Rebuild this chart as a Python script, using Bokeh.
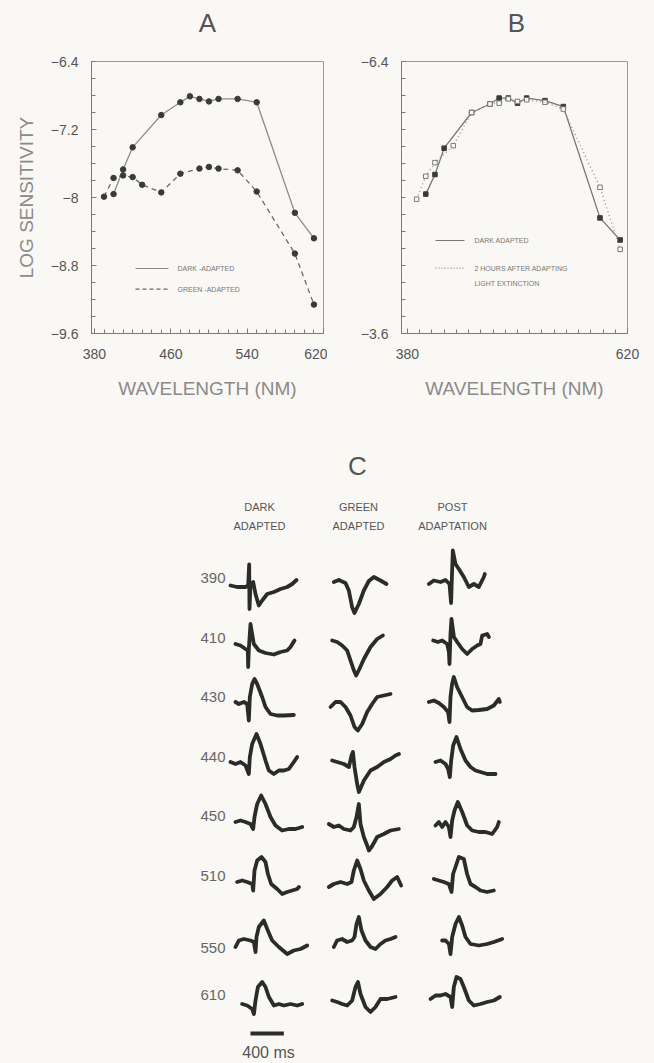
from bokeh.plotting import figure
from bokeh.models import Range1d, FixedTicker
from bokeh.layouts import column, row
from bokeh.core.properties import value
from bokeh.embed import file_html
from bokeh.resources import INLINE

# ---------------- data ----------------
# Panel A: spectral sensitivity, dark- vs green-adapted
A_wl_dark = [400, 410, 420, 450, 470, 480, 490, 500, 510, 530, 550, 590, 610]
A_dark = [-7.96, -7.67, -7.41, -7.03, -6.88, -6.81, -6.84, -6.87, -6.84, -6.84, -6.88, -8.18, -8.48]
A_wl_green = [390, 400, 410, 420, 430, 450, 470, 490, 500, 510, 530, 550, 590, 610]
A_green = [-7.99, -7.77, -7.74, -7.76, -7.85, -7.94, -7.72, -7.66, -7.64, -7.66, -7.68, -7.93, -8.66, -9.26]

# Panel B: dark adapted vs 2 h after adapting light extinction
B_wl_dark = [400, 410, 420, 450, 470, 480, 490, 500, 510, 530, 550, 590, 612]
B_dark = [-7.96, -7.73, -7.42, -7.00, -6.90, -6.83, -6.83, -6.89, -6.83, -6.86, -6.93, -8.24, -8.50]
B_wl_post = [390, 400, 410, 430, 450, 470, 480, 490, 500, 510, 530, 550, 590, 612]
B_post = [-8.02, -7.75, -7.59, -7.39, -7.00, -6.90, -6.89, -6.84, -6.87, -6.85, -6.88, -6.96, -7.88, -8.61]

A_xticks = [380, 460, 540, 620]
A_yticks = [-9.6, -8.8, -8.0, -7.2, -6.4]
A_ylabels = ["\u22129.6", "\u22128.8", "\u22128", "\u22127.2", "\u22126.4"]
B_xticks = [380, 620]
B_yticks = [-9.6, -6.4]
B_ylabels = ["\u22123.6", "\u22126.4"]

# Panel C: ERG traces (time in ms from trace origin, amplitude in arbitrary units)
C_wavelengths = ["390", "410", "430", "440", "450", "510", "550", "610"]
C_columns = [["DARK", "ADAPTED"], ["GREEN", "ADAPTED"], ["POST", "ADAPTATION"]]

dark_t = [
    [0, 80, 180, 212, 224, 228, 240, 272, 300, 340, 380, 440, 520, 600, 680, 740, 792],
    [60, 120, 180, 208, 212, 220, 240, 280, 340, 420, 520, 600, 680, 720, 768],
    [60, 100, 160, 200, 220, 232, 260, 288, 320, 380, 420, 480, 560, 640, 760],
    [0, 60, 120, 180, 220, 232, 260, 312, 360, 420, 460, 520, 580, 640, 700, 760, 800],
    [60, 120, 180, 240, 272, 288, 320, 368, 420, 480, 540, 620, 700, 780, 860],
    [80, 140, 200, 260, 272, 288, 320, 372, 420, 449, 488, 560, 620, 680, 740, 800, 821],
    [60, 100, 160, 240, 280, 300, 312, 340, 400, 448, 500, 580, 680, 760, 840, 920],
    [140, 200, 260, 281, 300, 329, 380, 420, 461, 521, 581, 641, 720, 800, 860],
]
dark_v = [
    [-1, -2.5, -2.5, -1, 20, -24.5, 0.5, 2.5, -9.5, -21, -16, -9.5, -7.5, -4.5, -2.5, 0.5, 4.5],
    [0, -1.5, -5, -6.5, -23, -5, 20, 0, -6.5, -9, -10.5, -8, -6.5, -3, 3.5],
    [1.5, -0.5, 1.5, -0.5, -17, 6.5, 19.5, 24.5, 19.5, 6.5, -3.5, -10.5, -12, -12, -11.5],
    [1, -1, 1, -2.5, -11, 6, 19, 29, 19, 2.5, -7.5, -11, -7.5, -7.5, -6, 1, 6],
    [0.5, 2, 0.5, -1.5, -6.5, 5.5, 18.5, 27, 18.5, 5.5, -3, -8, -6.5, -6.5, -4.5],
    [0, 1.5, 0, -2, -8.5, 11.5, 21.5, 25, 20, 8, -2, -7, -12, -10, -8.5, -7, -5],
    [-5.5, 1, 2.5, 1, -0.5, -10.5, 4.5, 14.5, 21, 11, 1, -5.5, -12.5, -9, -7.5, -4],
    [-3, -4.5, -8, -13, 0.5, 14, 19, 14, 4, -4.5, -3, -4.5, -3, -4.5, -3],
]
green_t = [
    [64, 124, 204, 244, 283, 312, 364, 424, 484, 544, 624, 696],
    [44, 104, 164, 224, 264, 305, 332, 365, 425, 504, 584, 653],
    [24, 84, 144, 204, 264, 312, 352, 404, 464, 524, 584, 664, 744],
    [44, 104, 185, 245, 276, 293, 312, 344, 365, 425, 504, 584, 665, 744, 804, 845],
    [4, 64, 124, 184, 264, 304, 336, 364, 384, 424, 464, 484, 524, 584, 664, 744, 844],
    [4, 64, 144, 224, 276, 304, 344, 384, 424, 484, 544, 624, 704, 764, 824, 872],
    [64, 103, 163, 223, 283, 312, 336, 364, 396, 444, 504, 564, 624, 684, 744, 804],
    [44, 104, 164, 224, 284, 324, 353, 384, 444, 504, 564, 624, 704, 804],
]
green_v = [
    [2.5, 4.5, 1.5, -6, -22.5, -28.5, -19.5, -6, 3.5, 7.5, 4, 0.5],
    [3.5, 2, -1.5, -6.5, -16.5, -26.5, -31.5, -26, -15, -3, 5, 8.5],
    [-3.5, 1.5, 1.5, -3.5, -12, -23.5, -27, -20.5, -8.5, -0.5, 6.5, 8, 9.5],
    [2.5, 1, -1, -4, 7.5, 11, -4, -21, -29, -17.5, -7.5, -4, 1, 4, 7.5, 9],
    [-1.5, -4.5, -3, -6.5, -8, -4.5, 5.5, 18.5, -1.5, -14.5, -23, -28, -23.5, -14.5, -11.5, -8, -6.5],
    [-5, -2, 0, -2, 0, 11.5, 21.5, 13, 1.5, -8.5, -17, -12, -5, 1.5, 5, -3.5],
    [-5.5, 1, 2.5, -0.5, 1, 4.5, 17.5, 24.5, 11, 1, -5.5, -7.5, -2.5, 1, 2.5, 4.5],
    [0.5, -1, -3, -4.5, 0.5, 14, 19, 7, -6, -11, -6, 2, 2, 4],
]
post_t = [
    [4, 64, 144, 204, 252, 271, 280, 292, 324, 364, 424, 484, 544, 604, 664, 676],
    [56, 113, 164, 224, 245, 252, 264, 276, 305, 344, 404, 464, 524, 584, 624, 644, 704, 725],
    [4, 64, 124, 184, 235, 252, 264, 283, 304, 343, 403, 463, 523, 604, 703, 784, 844, 856],
    [84, 144, 204, 236, 256, 272, 296, 336, 384, 444, 504, 564, 624, 704, 764, 804],
    [84, 124, 164, 204, 244, 264, 284, 312, 352, 404, 464, 524, 604, 684, 764, 824, 844],
    [64, 124, 184, 244, 276, 295, 324, 364, 424, 463, 504, 564, 624, 703, 784],
    [164, 204, 245, 264, 284, 324, 365, 404, 444, 504, 605, 704, 785, 884],
    [24, 84, 144, 204, 264, 284, 304, 336, 384, 424, 484, 544, 624, 704, 784, 856],
]
post_v = [
    [0.5, 4, 2.5, 4.5, 0.5, -18.5, 5.5, 34, 20.5, 15.5, 7.5, -2.5, 0.5, -2.5, 7.5, 10.5],
    [3.5, 2, 3.5, 0, -8, -20, 10, 25, 7, 2, -5, -10, -5, -1.5, 0, 8.5, 10, 7],
    [1.5, 3, 0.5, -3.5, -8.5, -18.5, 6.5, 19.5, 26.5, 16.5, 6.5, -3.5, -7, -6.5, -5.5, -2, 4.5, 1.5],
    [1, 2.5, -1, -6, -14, 2.5, 17.5, 26, 14, 2.5, -4, -7.5, -9, -11, -11, -11],
    [-3, 0.5, -4.5, 0.5, -4.5, -14.5, 2, 12, 20.5, 10.5, -3, -8, -9.5, -9.5, -11.5, -4.5, 0.5],
    [3, 1.5, 0, -2, -10, 8, 15, 25, 23, 8, -2, -5, -8.5, -10, -8.5],
    [1, 1, -2.5, -12.5, 4.5, 17.5, 24.5, 16, 4.5, -2.5, -4, -2.5, -0.5, 2.5],
    [2, 5.5, 5.5, 7, 4, -6, 14, 24, 22, 14, 0.5, -4.5, -3, -1, 0.5, 4],
]
scale_bar_ms = 400

# ---------------- styling ----------------
BG = "#faf8f5"
INK = "#2b2b2b"
AXIS = "#7a7a7a"
TICKTXT = "#555555"
TITLETXT = "#8a8a8a"
FONT = "Liberation Sans"
STRIP_H = 44  # height of the strip holding the panel letters A and B


def bare_figure(width, height, x_range, y_range):
    p = figure(width=width, height=height, x_range=x_range, y_range=y_range,
               output_backend="svg", toolbar_location=None,
               x_axis_location=None, y_axis_location=None,
               min_border=0, min_border_left=0, min_border_right=0,
               min_border_top=0, min_border_bottom=0)
    p.grid.visible = False
    p.outline_line_color = None
    p.background_fill_color = BG
    p.border_fill_color = BG
    return p


def style_sensitivity_axes(p, xticks, xminor, yticks, ylabels, yminor):
    p.grid.visible = False
    p.background_fill_color = BG
    p.border_fill_color = BG
    p.outline_line_color = "#9a9a9a"
    p.xaxis.ticker = FixedTicker(ticks=xticks, minor_ticks=xminor)
    p.yaxis.ticker = FixedTicker(ticks=yticks, minor_ticks=yminor)
    p.yaxis.major_label_overrides = dict(zip(yticks, ylabels))
    p.xaxis.major_label_overrides = {t: str(t) for t in xticks}
    for ax in p.axis:
        ax.axis_line_color = AXIS
        ax.major_tick_line_color = AXIS
        ax.minor_tick_line_color = AXIS
        ax.major_tick_in = 5
        ax.major_tick_out = 0
        ax.minor_tick_in = 4
        ax.minor_tick_out = 0
        ax.major_label_text_font = FONT
        ax.major_label_text_font_size = "14px"
        ax.major_label_text_color = TICKTXT
        ax.axis_label_text_font = FONT
        ax.axis_label_text_font_style = "normal"
        ax.axis_label_text_font_size = "19px"
        ax.axis_label_text_color = TITLETXT
    p.xaxis.major_label_standoff = 15
    p.yaxis.major_label_standoff = 13
    p.xaxis.axis_label = "WAVELENGTH (NM)"
    p.xaxis.axis_label_standoff = 16


# ---------------- panel letters strip ----------------
pT = bare_figure(654, STRIP_H, Range1d(0, 654), Range1d(STRIP_H, 0))
pT.text(x=[207, 516], y=[22, 22], text=["A", "B"], text_font=value(FONT), text_font_size="26px",
        text_color="#555555", text_align="center", text_baseline="middle")

# ---------------- panel A ----------------
pA = figure(width=327, height=410 - STRIP_H, x_range=Range1d(376.9, 620),
            y_range=Range1d(-9.6, -6.4), output_backend="svg", toolbar_location=None,
            min_border_left=91, min_border_right=4, min_border_top=61 - STRIP_H,
            min_border_bottom=73)
style_sensitivity_axes(pA, A_xticks, list(range(380, 621, 10)), A_yticks, A_ylabels,
                       [round(-9.6 + 0.2 * k, 1) for k in range(17)])
pA.yaxis.axis_label = "LOG SENSITIVITY"
pA.yaxis.axis_label_standoff = 11

pA.line(A_wl_dark, A_dark, line_color="#8c8c8c", line_width=1.3)
pA.line(A_wl_green, A_green, line_color="#6a6a6a", line_width=1.3, line_dash="5 4")
pA.scatter(A_wl_dark, A_dark, size=5.5, color="#3a3a3a")
pA.scatter(A_wl_green, A_green, size=5.5, color="#3a3a3a")

# legend keys
pA.line([423, 457.6], [-8.835, -8.835], line_color="#8c8c8c", line_width=1.2)
pA.line([423, 457.6], [-9.078, -9.078], line_color="#6a6a6a", line_width=1.2, line_dash="4 3")
pA.text(x=[467, 467], y=[-8.835, -9.078], text=["DARK -ADAPTED", "GREEN -ADAPTED"],
        text_font=value(FONT), text_font_size="7px", text_color="#777777", text_baseline="middle")

# ---------------- panel B ----------------
pB = figure(width=327, height=410 - STRIP_H, x_range=Range1d(373.5, 620),
            y_range=Range1d(-9.6, -6.4), output_backend="svg", toolbar_location=None,
            min_border_left=74, min_border_right=27, min_border_top=58 - STRIP_H,
            min_border_bottom=77)
style_sensitivity_axes(pB, B_xticks, [380 + k * 240 / 18 for k in range(19)], B_yticks, B_ylabels,
                       [round(-9.6 + 0.2 * k, 1) for k in range(17)])

pB.line(B_wl_dark, B_dark, line_color="#777777", line_width=1.3)
pB.line(B_wl_post, B_post, line_color="#8a8a8a", line_width=1.3, line_dash="1 3")
pB.scatter(B_wl_dark, B_dark, marker="square", size=4.5, color="#3a3a3a")
pB.scatter(B_wl_post, B_post, marker="square", size=4.5, fill_color=BG, line_color="#7a7a7a",
           line_width=1)

pB.line([410.6, 442.2], [-8.506, -8.506], line_color="#777777", line_width=1.2)
pB.line([410.6, 442.2], [-8.832, -8.832], line_color="#8a8a8a", line_width=1.2, line_dash="1 2")
pB.text(x=[453.1, 453.1, 453.1], y=[-8.506, -8.832, -9.006],
        text=["DARK ADAPTED", "2 HOURS AFTER ADAPTING", "LIGHT EXTINCTION"],
        text_font=value(FONT), text_font_size="7px", text_color="#777777", text_baseline="middle")

# ---------------- panel C ----------------
# x in ms (12 ms per screen pixel), y in arbitrary amplitude units
pC = bare_figure(654, 653, Range1d(0, 7848), Range1d(0, 653))

col_origin = [2760, 3936, 5136]
col_center = [3108, 4296, 5424]
row_base = [479 - 59.5 * i for i in range(len(C_wavelengths))]

for origin, ts, vs in zip(col_origin, [dark_t, green_t, post_t], [dark_v, green_v, post_v]):
    xs = [[origin + t for t in tr] for tr in ts]
    ys = [[base + v for v in vr] for base, vr in zip(row_base, vs)]
    pC.multi_line(xs, ys, line_color=INK, line_width=3.8, line_join="round", line_cap="round")

label_y = [b + (-6 if w == "550" else 6.5) for b, w in zip(row_base, C_wavelengths)]
pC.text(x=[2700] * len(C_wavelengths), y=label_y, text=C_wavelengths,
        text_font=value(FONT), text_font_size="15px", text_color="#666666",
        text_align="right", text_baseline="middle")

pC.text(x=col_center, y=[557] * 3, text=[c[0] for c in C_columns],
        text_font=value(FONT), text_font_size="11px", text_color="#555555",
        text_align="center", text_baseline="middle")
pC.text(x=col_center, y=[538] * 3, text=[c[1] for c in C_columns],
        text_font=value(FONT), text_font_size="11px", text_color="#555555",
        text_align="center", text_baseline="middle")

pC.text(x=[4284], y=[598], text=["C"], text_font=value(FONT), text_font_size="26px",
        text_color="#555555", text_align="center", text_baseline="middle")

bar_x0 = 3000
pC.line([bar_x0, bar_x0 + scale_bar_ms], [30, 30], line_color=INK, line_width=4)
pC.text(x=[bar_x0 + scale_bar_ms / 2 + 16], y=[11], text=[f"{scale_bar_ms} ms"],
        text_font=value(FONT), text_font_size="16px", text_color="#555555",
        text_align="center", text_baseline="middle")

layout = column(pT, row(pA, pB, spacing=0, styles={"background-color": BG}), pC, spacing=0,
                styles={"background-color": BG})
open("out.html", "w").write(file_html(layout, INLINE))
